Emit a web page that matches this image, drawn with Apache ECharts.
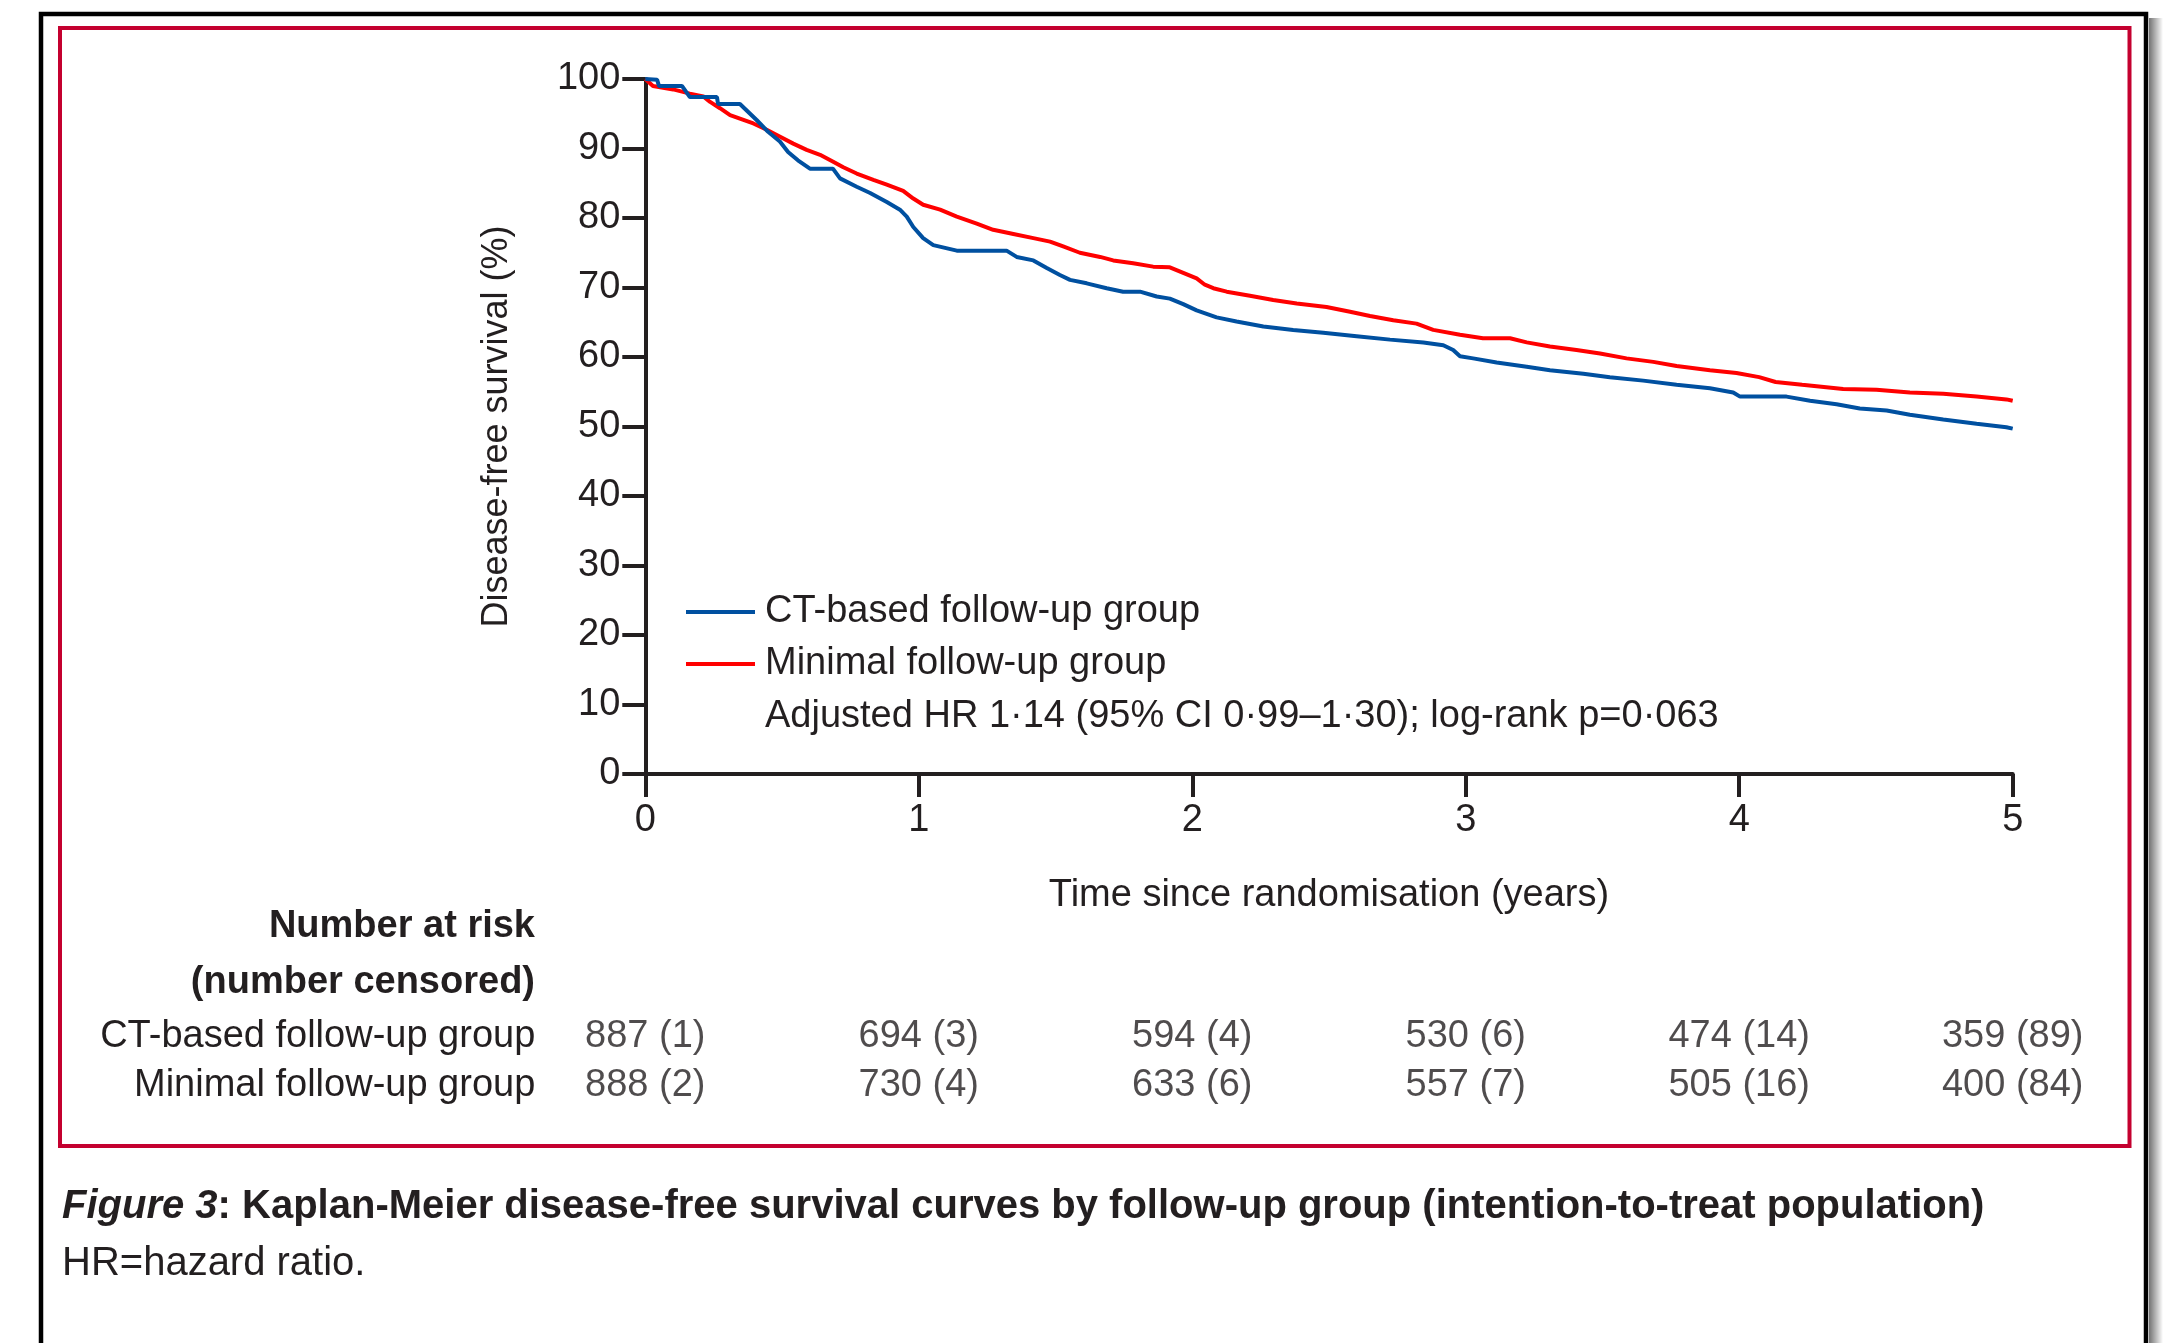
<!DOCTYPE html>
<html>
<head>
<meta charset="utf-8">
<title>Kaplan-Meier disease-free survival by follow-up group</title>
<script src="https://cdn.jsdelivr.net/npm/echarts@6/dist/echarts.min.js"></script>
<style>
  html, body { margin: 0; padding: 0; background: #ffffff; }
  #chart { width: 2166px; height: 1343px; }
</style>
</head>
<body>
<div id="chart"></div>
<script>
// Kaplan-Meier estimates, time in years since randomisation, survival in %
const ctTime = [0, 0.043, 0.05, 0.134, 0.163, 0.262, 0.266, 0.346, 0.407, 0.449, 0.492, 0.522, 0.558, 0.602, 0.686, 0.712, 0.773, 0.822, 0.883, 0.931, 0.956, 0.980, 1.016, 1.053, 1.139, 1.321, 1.358, 1.419, 1.468, 1.516, 1.553, 1.614, 1.687, 1.747, 1.809, 1.870, 1.918, 1.967, 2.016, 2.089, 2.162, 2.260, 2.369, 2.479, 2.601, 2.723, 2.845, 2.918, 2.954, 2.979, 3.027, 3.113, 3.223, 3.308, 3.430, 3.527, 3.649, 3.771, 3.893, 3.978, 4.003, 4.173, 4.259, 4.356, 4.441, 4.539, 4.624, 4.746, 4.868, 4.977, 5.0];
const ctSurv = [100, 99.9, 99.0, 99.0, 97.4, 97.4, 96.4, 96.4, 94.1, 92.4, 91.0, 89.5, 88.3, 87.1, 87.1, 85.7, 84.5, 83.6, 82.3, 81.2, 80.2, 78.7, 77.1, 76.1, 75.3, 75.3, 74.4, 73.9, 72.8, 71.8, 71.1, 70.6, 69.9, 69.4, 69.4, 68.7, 68.4, 67.6, 66.7, 65.7, 65.1, 64.4, 63.9, 63.5, 63.0, 62.5, 62.1, 61.7, 61.0, 60.1, 59.8, 59.2, 58.6, 58.1, 57.6, 57.1, 56.6, 56.0, 55.5, 54.9, 54.3, 54.3, 53.7, 53.2, 52.6, 52.3, 51.7, 51.0, 50.4, 49.9, 49.7];

const minTime = [0, 0.028, 0.102, 0.163, 0.212, 0.237, 0.273, 0.310, 0.346, 0.395, 0.444, 0.493, 0.541, 0.590, 0.639, 0.687, 0.724, 0.773, 0.834, 0.883, 0.943, 0.980, 1.016, 1.078, 1.139, 1.212, 1.272, 1.346, 1.419, 1.480, 1.528, 1.589, 1.663, 1.711, 1.784, 1.857, 1.918, 1.967, 2.016, 2.046, 2.077, 2.126, 2.211, 2.296, 2.382, 2.491, 2.577, 2.650, 2.735, 2.820, 2.881, 2.979, 3.063, 3.162, 3.223, 3.308, 3.405, 3.491, 3.588, 3.686, 3.771, 3.893, 3.990, 4.073, 4.133, 4.230, 4.380, 4.502, 4.624, 4.746, 4.868, 4.977, 5.0];
const minSurv = [100, 99.0, 98.5, 97.9, 97.5, 96.7, 95.8, 94.8, 94.3, 93.6, 92.7, 91.7, 90.7, 89.8, 89.1, 88.1, 87.3, 86.4, 85.5, 84.8, 83.9, 82.8, 81.9, 81.2, 80.2, 79.2, 78.3, 77.7, 77.1, 76.6, 75.9, 75.0, 74.4, 73.9, 73.5, 73.0, 72.9, 72.1, 71.3, 70.4, 69.9, 69.4, 68.8, 68.2, 67.7, 67.2, 66.5, 65.9, 65.3, 64.8, 63.9, 63.2, 62.7, 62.7, 62.1, 61.5, 61.0, 60.5, 59.8, 59.3, 58.7, 58.1, 57.7, 57.1, 56.4, 56.0, 55.4, 55.3, 54.9, 54.7, 54.3, 53.9, 53.7];

// Number at risk (number censored) at each year
const riskYears = [0, 1, 2, 3, 4, 5];
const groupNames = ['CT-based follow-up group', 'Minimal follow-up group'];
const ctAtRisk = [887, 694, 594, 530, 474, 359];
const ctCensored = [1, 3, 4, 6, 14, 89];
const minAtRisk = [888, 730, 633, 557, 505, 400];
const minCensored = [2, 4, 6, 7, 16, 84];

const statsText = 'Adjusted HR 1·14 (95% CI 0·99–1·30); log-rank p=0·063';
const captionTitle = 'Figure 3';
const captionRest = ': Kaplan-Meier disease-free survival curves by follow-up group (intention-to-treat population)';
const captionNote = 'HR=hazard ratio.';

const FONT = '"Liberation Sans", Arial, sans-serif';
const INK = '#231f20';
const BLUE = '#0050a0';
const RED = '#ff0000';

const zip = (xs, ys) => xs.map((x, i) => [x, ys[i]]);
const riskRows = (group, atRisk, censored) =>
  riskYears.map((t, i) => [t, group, atRisk[i] + ' (' + censored[i] + ')']);

const chart = echarts.init(document.getElementById('chart'), null, { renderer: 'canvas' });

chart.setOption({
  animation: false,
  backgroundColor: '#ffffff',
  textStyle: { fontFamily: FONT, color: INK },
  grid: [
    { left: 645.3, right: 153.3, top: 79, bottom: 569, containLabel: false },
    { left: 645.3, right: 153.3, top: 1012, height: 98, containLabel: false }
  ],
  xAxis: [
    {
      gridIndex: 0, type: 'value', min: 0, max: 5, interval: 1,
      name: 'Time since randomisation (years)',
      nameLocation: 'middle', nameGap: 103,
      nameTextStyle: { fontSize: 38, fontFamily: FONT, color: INK },
      axisLine: { show: true, onZero: false, lineStyle: { color: INK, width: 4 } },
      axisTick: { show: true, length: 23, lineStyle: { color: INK, width: 4 } },
      axisLabel: { fontSize: 38, fontFamily: FONT, color: INK, margin: 28 },
      splitLine: { show: false }
    },
    {
      gridIndex: 1, type: 'value', min: 0, max: 5, interval: 1, show: false
    }
  ],
  yAxis: [
    {
      gridIndex: 0, type: 'value', min: 0, max: 100, interval: 10,
      name: 'Disease-free survival (%)',
      nameLocation: 'middle', nameGap: 130,
      nameTextStyle: { fontSize: 36, fontFamily: FONT, color: INK },
      axisLine: { show: true, onZero: false, lineStyle: { color: INK, width: 4 } },
      axisTick: { show: true, length: 23, lineStyle: { color: INK, width: 4 } },
      axisLabel: { fontSize: 38, fontFamily: FONT, color: INK, margin: 25 },
      splitLine: { show: false }
    },
    {
      gridIndex: 1, type: 'category', data: groupNames, inverse: true,
      axisLine: { show: false }, axisTick: { show: false }, splitLine: { show: false },
      axisLabel: { fontSize: 38, fontFamily: FONT, color: INK, margin: 110, interval: 0, hideOverlap: false }
    }
  ],
  legend: {
    orient: 'vertical',
    left: 686, top: 592,
    padding: 0,
    itemGap: 12,
    itemWidth: 69, itemHeight: 4,
    icon: 'rect',
    data: groupNames,
    textStyle: { fontSize: 38, fontFamily: FONT, color: INK, lineHeight: 40, padding: [0, 0, 0, 5] }
  },
  series: [
    {
      name: groupNames[0], type: 'line', xAxisIndex: 0, yAxisIndex: 0,
      data: zip(ctTime, ctSurv), showSymbol: false, smooth: false,
      color: BLUE, lineStyle: { color: BLUE, width: 4 }, z: 3
    },
    {
      name: groupNames[1], type: 'line', xAxisIndex: 0, yAxisIndex: 0,
      data: zip(minTime, minSurv), showSymbol: false, smooth: false,
      color: RED, lineStyle: { color: RED, width: 4 }, z: 2
    },
    {
      name: 'risk-table', type: 'scatter', xAxisIndex: 1, yAxisIndex: 1,
      data: riskRows(groupNames[0], ctAtRisk, ctCensored).concat(riskRows(groupNames[1], minAtRisk, minCensored)),
      symbolSize: 0, silent: true,
      label: {
        show: true, position: 'inside',
        formatter: p => p.value[2],
        fontSize: 38, fontFamily: FONT, color: INK
      }
    }
  ],
  graphic: [
    // outer figure box with its soft shadow on the right
    {
      type: 'rect', z: -10,
      shape: { x: 2149, y: 18, width: 14, height: 1340 },
      style: {
        fill: new echarts.graphic.LinearGradient(0, 0, 1, 0, [
          { offset: 0, color: 'rgba(0,0,0,0.55)' },
          { offset: 1, color: 'rgba(0,0,0,0)' }
        ])
      }
    },
    {
      type: 'rect', z: -5,
      shape: { x: 41, y: 14, width: 2105, height: 1400 },
      style: { fill: 'none', stroke: '#000000', lineWidth: 4.5 }
    },
    // red panel round the plot and table
    {
      type: 'rect', z: -5,
      shape: { x: 60, y: 28, width: 2069.5, height: 1118 },
      style: { fill: 'none', stroke: '#c4002f', lineWidth: 4 }
    },
    {
      type: 'text', x: 765, y: 717,
      style: { text: statsText, font: '38px ' + FONT, fill: INK, align: 'left', verticalAlign: 'middle' }
    },
    {
      type: 'text', x: 535, y: 927,
      style: { text: 'Number at risk', font: 'bold 38px ' + FONT, fill: INK, align: 'right', verticalAlign: 'middle' }
    },
    {
      type: 'text', x: 535, y: 983,
      style: { text: '(number censored)', font: 'bold 38px ' + FONT, fill: INK, align: 'right', verticalAlign: 'middle' }
    },
    {
      type: 'text', x: 62, y: 1207,
      style: {
        text: '{fig|' + captionTitle + '}{b|' + captionRest + '}',
        align: 'left', verticalAlign: 'middle',
        rich: {
          fig: { fontSize: 40, fontFamily: FONT, fontWeight: 'bold', fontStyle: 'italic', fill: INK },
          b: { fontSize: 40, fontFamily: FONT, fontWeight: 'bold', fill: INK }
        }
      }
    },
    {
      type: 'text', x: 62, y: 1264,
      style: { text: captionNote, font: '40px ' + FONT, fill: INK, align: 'left', verticalAlign: 'middle' }
    }
  ]
});
</script>
</body>
</html>
